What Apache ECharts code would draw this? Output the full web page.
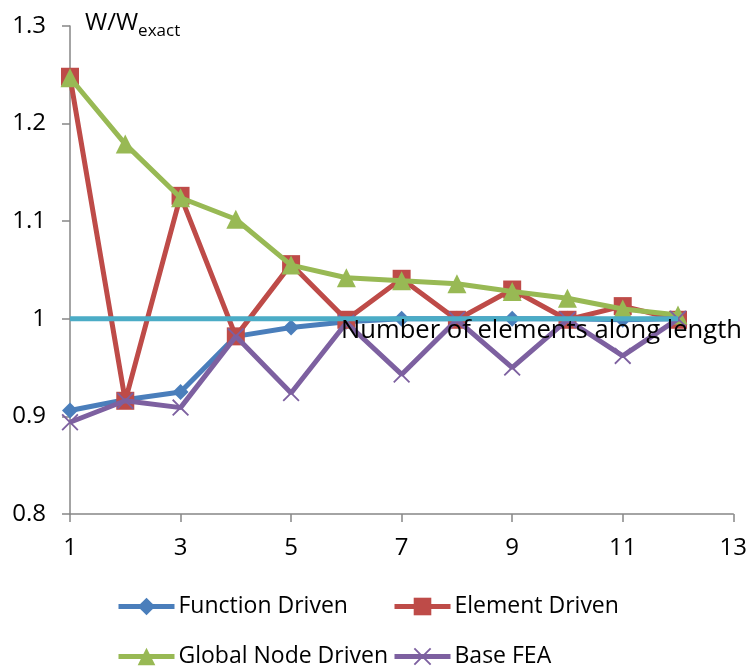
<!DOCTYPE html>
<html>
<head>
<meta charset="utf-8">
<style>
  html, body { margin: 0; padding: 0; background: #fff; }
  #chart { width: 750px; height: 667px; }
</style>
<script src="https://cdn.jsdelivr.net/npm/echarts@6/dist/echarts.min.js"></script>
</head>
<body>
<div id="chart"></div>
<script>
// Number of elements along the length
const elements = [1, 2, 3, 4, 5, 6, 7, 8, 9, 10, 11, 12];

// Normalised deflection W/W_exact for each scheme
const functionDriven   = [0.906, 0.917, 0.925, 0.982, 0.991, 0.997, 1.000, 1.000, 1.000, 1.000, 0.999, 1.000];
const elementDriven    = [1.248, 0.916, 1.126, 0.982, 1.056, 0.999, 1.041, 0.999, 1.030, 0.999, 1.013, 0.999];
const globalNodeDriven = [1.247, 1.179, 1.124, 1.102, 1.055, 1.042, 1.039, 1.036, 1.028, 1.021, 1.010, 1.004];
const baseFEA          = [0.894, 0.916, 0.909, 0.982, 0.924, 0.996, 0.943, 0.999, 0.950, 0.999, 0.962, 1.000];
const exactLine        = [1, 1, 1, 1, 1, 1, 1, 1, 1, 1, 1, 1];

const xTicks = { min: 1, max: 13, step: 2 };
const yTicks = { min: 0.8, max: 1.3, step: 0.1 };

const FONT = 'Open Sans';
const pairs = arr => elements.map((x, i) => [x, arr[i]]);
const crossPath = 'path://M0,1.2L1.2,0L8,6.8L14.8,0L16,1.2L9.2,8L16,14.8L14.8,16L8,9.2L1.2,16L0,14.8L6.8,8Z';

function lineSeries(name, data, color, symbol, size, z) {
  return {
    name, type: 'line', data: pairs(data), z,
    symbol, symbolSize: size,
    lineStyle: { color, width: 5 },
    itemStyle: { color },
    emphasis: { disabled: true },
    animation: false
  };
}

const legendBase = {
  orient: 'horizontal', itemWidth: 56, itemHeight: 22, itemGap: 0, padding: 0,
  lineStyle: { width: 5 },
  textStyle: { fontFamily: FONT, fontSize: 23, color: '#000', padding: [0, 0, 0, -1] },
  selectedMode: false
};

const chart = echarts.init(document.getElementById('chart'), null, { renderer: 'canvas' });
chart.setOption({
  backgroundColor: '#fff',
  animation: false,
  grid: { left: 70, right: 14, top: 26, bottom: 153 },
  xAxis: {
    type: 'value', min: xTicks.min, max: xTicks.max, interval: xTicks.step,
    axisLine: { lineStyle: { color: '#868686', width: 1.5 } },
    axisTick: { length: 8, lineStyle: { color: '#868686', width: 1.5 } },
    axisLabel: { fontFamily: FONT, fontSize: 24, color: '#000', margin: 22 },
    splitLine: { show: false }
  },
  yAxis: {
    type: 'value', min: yTicks.min, max: yTicks.max, interval: yTicks.step,
    axisLine: { show: true, lineStyle: { color: '#868686', width: 1.5 } },
    axisTick: { show: true, length: 8, lineStyle: { color: '#868686', width: 1.5 } },
    axisLabel: { fontFamily: FONT, fontSize: 24, color: '#000', margin: 24,
      formatter: v => (Math.round(v * 10) / 10).toString() },
    splitLine: { show: false }
  },
  legend: [
    Object.assign({ data: ['Function Driven'], left: 116, top: 595 }, legendBase),
    Object.assign({ data: ['Element Driven'], left: 392, top: 595 }, legendBase),
    Object.assign({ data: ['Global Node Driven'], left: 116, top: 645 }, legendBase),
    Object.assign({ data: ['Base FEA'], left: 392, top: 645 }, legendBase)
  ],
  series: [
    lineSeries('Function Driven', functionDriven, '#4A7EBB', 'diamond', 16, 2),
    lineSeries('Element Driven', elementDriven, '#BE4B48', 'rect', 18, 3),
    lineSeries('Global Node Driven', globalNodeDriven, '#98B954', 'triangle', 19, 4),
    lineSeries('Base FEA', baseFEA, '#7D60A0', crossPath, 17, 5),
    Object.assign(lineSeries('W/W exact = 1', exactLine, '#4BACC6', 'none', 0, 6), { showSymbol: false })
  ],
  graphic: [
    {
      type: 'text', left: 85, top: 11, z: 20,
      style: {
        text: '{a|W/W}{b|exact}',
        rich: {
          a: { fontFamily: FONT, fontSize: 24, fill: '#000' },
          b: { fontFamily: FONT, fontSize: 17, fill: '#000', padding: [16, 0, 0, 0] }
        }
      }
    },
    {
      type: 'text', right: 8, top: 318, z: 20,
      style: { text: 'Number of elements along length', fontFamily: FONT, fontSize: 25.6, fill: '#000' }
    }
  ]
});
</script>
</body>
</html>
